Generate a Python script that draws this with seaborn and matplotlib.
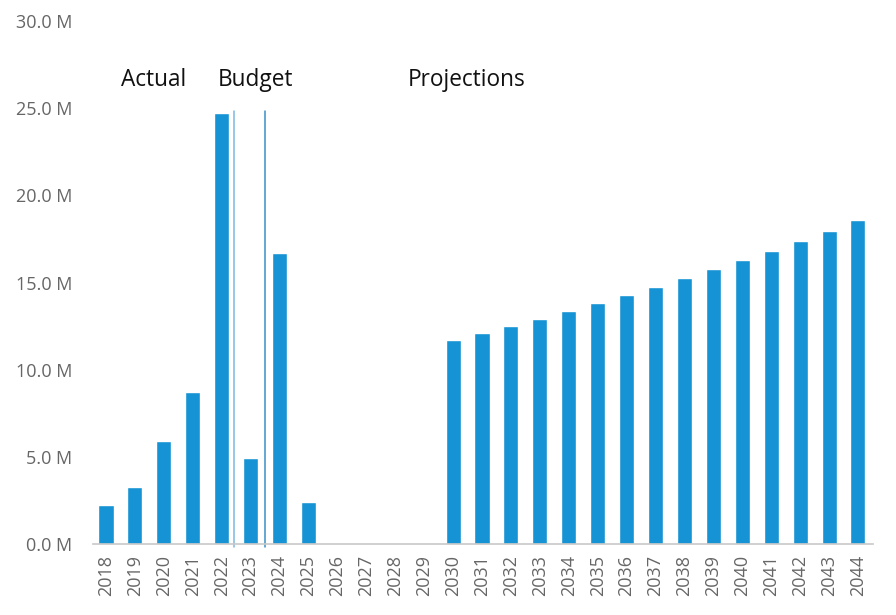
import matplotlib
matplotlib.use("Agg")
import matplotlib.pyplot as plt
import seaborn as sns
import pandas as pd
from matplotlib.ticker import FuncFormatter

years = [str(y) for y in range(2018, 2045)]
values = [2.25, 3.27, 5.91, 8.72, 24.73, 4.93, 16.7, 2.41,
          0, 0, 0, 0,
          11.70, 12.10, 12.50, 12.90, 13.37, 13.83, 14.29, 14.74,
          15.26, 15.78, 16.30, 16.81, 17.38, 17.96, 18.60]
section_labels = ["Actual", "Budget", "Projections"]
section_x = [1.63, 5.17, 12.48]
divider_x = [4.43, 5.48]
divider_colors = ["#7FB8E0", "#3A8FC8"]

df = pd.DataFrame({"year": years, "value": values})

sns.set_theme(style="white")
plt.rcParams["font.family"] = ["Open Sans", "DejaVu Sans"]

fig = plt.figure(figsize=(8.96, 6.15), dpi=100)
ax = fig.add_axes([93/896, 71/615, (873-93)/896, (544-21)/615])

sns.barplot(data=df, x="year", y="value", color="#1593D4", width=0.52,
            saturation=1, ax=ax)

for xv, c in zip(divider_x, divider_colors):
    ax.plot([xv, xv], [-0.2, 24.85], color=c, lw=1.1, clip_on=False)

for lbl, xv in zip(section_labels, section_x):
    ax.text(xv, 26.6, lbl, ha="center", va="center", fontsize=16.3, color="#111111")

ax.set_ylim(0, 30)
ax.set_xlim(-0.45, 26.52)
ax.set_yticks([0, 5, 10, 15, 20, 25, 30])
ax.yaxis.set_major_formatter(FuncFormatter(lambda v, p: f"{v:.1f} M"))
ax.set_xlabel("")
ax.set_ylabel("")
ax.tick_params(axis="x", rotation=90, labelsize=13, colors="#666666", length=0, pad=8)
ax.tick_params(axis="y", labelsize=13, colors="#666666", length=0, pad=15)
for s in ["top", "right", "left"]:
    ax.spines[s].set_visible(False)
ax.spines["bottom"].set_color("#C8C8C8")
ax.spines["bottom"].set_linewidth(1.2)

fig.savefig("out.png", dpi=100)
